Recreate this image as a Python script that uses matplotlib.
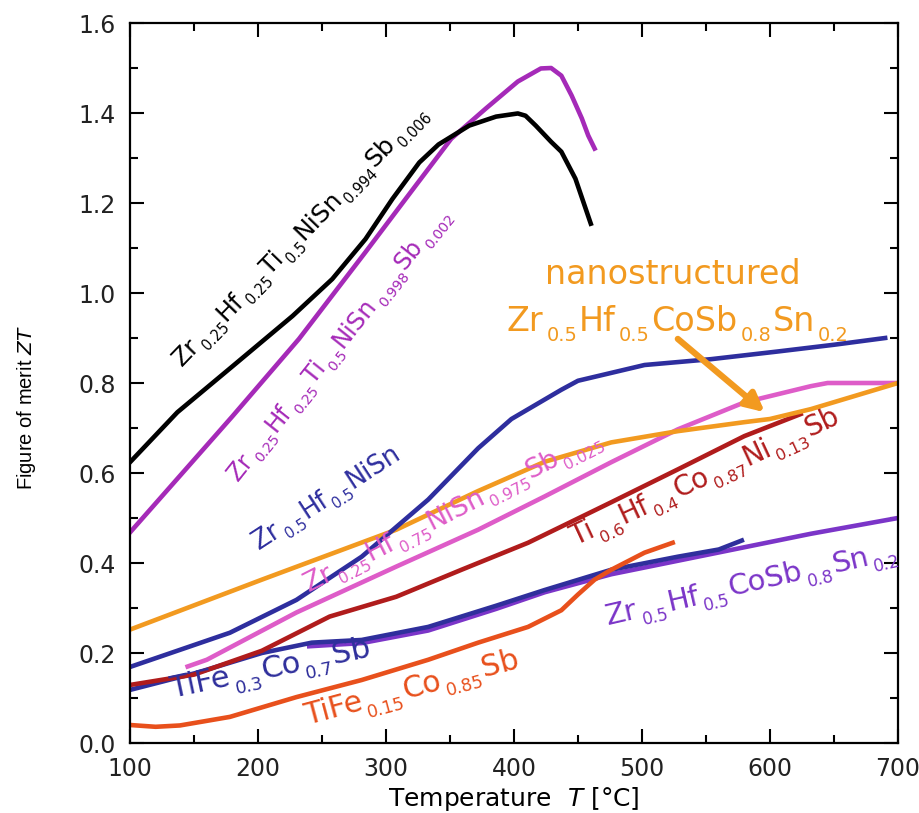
import re
import numpy as np
import matplotlib
matplotlib.use('Agg')
import matplotlib.pyplot as plt
from matplotlib.ticker import MultipleLocator, FormatStrFormatter
from matplotlib.transforms import offset_copy
from matplotlib.font_manager import FontProperties

plt.rcParams['font.family'] = ['DejaVu Sans']
plt.rcParams['mathtext.fontset'] = 'custom'
plt.rcParams['mathtext.rm'] = 'DejaVu Sans'
plt.rcParams['mathtext.it'] = 'DejaVu Sans:italic'

# ZT(T) curves, temperatures in degC
blk_T = [100, 137, 180, 227, 258, 284, 305, 326, 341, 365, 386, 403, 409, 417, 429, 437, 448, 460]
blk_ZT = [0.624, 0.735, 0.837, 0.949, 1.031, 1.12, 1.209, 1.29, 1.33, 1.372, 1.392, 1.399, 1.394, 1.372, 1.336, 1.314, 1.254, 1.154]

mag_T = [100, 180, 232, 284, 323, 351, 378, 403, 421, 429, 437, 445, 453, 458, 463]
mag_ZT = [0.468, 0.726, 0.898, 1.091, 1.238, 1.343, 1.41, 1.47, 1.499, 1.50, 1.483, 1.439, 1.388, 1.35, 1.321]

nisn_T = [100, 178, 230, 281, 333, 372, 386, 398, 437, 450, 502, 554, 606, 650, 690]
nisn_ZT = [0.169, 0.245, 0.318, 0.414, 0.541, 0.655, 0.69, 0.72, 0.785, 0.805, 0.84, 0.853, 0.87, 0.885, 0.90]

nano_T = [100, 203, 308, 372, 424, 476, 528, 580, 600, 632, 700]
nano_ZT = [0.252, 0.363, 0.474, 0.56, 0.625, 0.668, 0.693, 0.713, 0.72, 0.742, 0.80]

pink_T = [145, 160, 230, 308, 372, 424, 476, 528, 580, 632, 645, 700]
pink_ZT = [0.17, 0.185, 0.29, 0.392, 0.474, 0.548, 0.624, 0.697, 0.757, 0.793, 0.80, 0.80]

red_T = [100, 150, 203, 256, 308, 359, 411, 458, 476, 528, 580, 624]
red_ZT = [0.129, 0.152, 0.205, 0.281, 0.325, 0.385, 0.445, 0.51, 0.535, 0.608, 0.682, 0.731]

fe3_T = [100, 152, 203, 242, 281, 333, 386, 424, 476, 528, 560, 578]
fe3_ZT = [0.118, 0.156, 0.200, 0.223, 0.229, 0.258, 0.305, 0.34, 0.385, 0.414, 0.43, 0.45]

cosb_T = [240, 281, 333, 386, 424, 476, 528, 580, 632, 700]
cosb_ZT = [0.215, 0.222, 0.25, 0.298, 0.335, 0.375, 0.405, 0.435, 0.465, 0.50]

fe15_T = [100, 120, 139, 178, 230, 281, 333, 372, 411, 437, 450, 463, 476, 502, 524]
fe15_ZT = [0.040, 0.036, 0.039, 0.058, 0.102, 0.140, 0.185, 0.223, 0.258, 0.295, 0.33, 0.363, 0.385, 0.423, 0.445]

c_blk = 'black'
c_mag = '#A52AB8'
c_nisn = '#2E2E9E'
c_nano = '#F29A20'
c_pink = '#DE5CC8'
c_red = '#B01C1C'
c_fe3 = '#2F2F9C'
c_cosb = '#7B35C8'
c_fe15 = '#E8501C'

fig = plt.figure(figsize=(9.19, 8.13), dpi=100)
ax = fig.add_axes([0.1415, 0.0861, 0.8356, 0.8856])

lw = 3.3
ax.plot(cosb_T, cosb_ZT, color=c_cosb, lw=lw)
ax.plot(fe3_T, fe3_ZT, color=c_fe3, lw=lw)
ax.plot(fe15_T, fe15_ZT, color=c_fe15, lw=lw)
ax.plot(red_T, red_ZT, color=c_red, lw=lw)
ax.plot(pink_T, pink_ZT, color=c_pink, lw=lw)
ax.plot(nano_T, nano_ZT, color=c_nano, lw=lw)
ax.plot(nisn_T, nisn_ZT, color=c_nisn, lw=lw)
ax.plot(mag_T, mag_ZT, color=c_mag, lw=lw)
ax.plot(blk_T, blk_ZT, color=c_blk, lw=lw)

renderer = fig.canvas.get_renderer()


def chem(x, y, formula, color, rot=0, size=18, sub=0.58, drop=0.3, gap=0.1):
    # formula like 'Zr_0.25Hf_0.25NiSn': pieces after '_' are subscripts
    pieces = re.findall(r'_([0-9.]+)|([^_]+?)(?=_|$)', formula)
    th = np.radians(rot)
    adv = 0.0
    for sb, main in pieces:
        s = sb if sb else main
        fsz = size * sub if sb else size
        along = adv + (gap * size if sb else 0)
        perp = drop * size if sb else 0
        dx = along * np.cos(th) + perp * np.sin(th)
        dy = along * np.sin(th) - perp * np.cos(th)
        tr = offset_copy(ax.transData, fig=fig, x=dx, y=dy, units='points')
        ax.text(x, y, s, color=color, fontsize=fsz, rotation=rot, rotation_mode='anchor',
                ha='left', va='baseline', transform=tr)
        w, _, _ = renderer.get_text_width_height_descent(s, FontProperties(size=fsz), ismath=False)
        adv = along + w * 72 / fig.dpi + (0.04 * size if sb else 0)


chem(140.5, 0.835, 'Zr_0.25Hf_0.25Ti_0.5NiSn_0.994Sb_0.006', c_blk, 46, 18)
chem(184, 0.581, 'Zr_0.25Hf_0.25Ti_0.5NiSn_0.998Sb_0.002', c_mag, 51.5, 17.5)
chem(201, 0.43, 'Zr_0.5Hf_0.5NiSn', c_nisn, 33, 18.5)
chem(240, 0.336, 'Zr_0.25Hf_0.75NiSn_0.975Sb_0.025', c_pink, 27, 19.5)
chem(448, 0.437, 'Ti_0.6Hf_0.4Co_0.87Ni_0.13Sb', c_red, 25, 20)
chem(473.5, 0.263, 'Zr_0.5Hf_0.5CoSb_0.8Sn_0.2', c_cosb, 13, 21)
chem(133, 0.10, 'TiFe_0.3Co_0.7Sb', c_fe3, 12, 22)
chem(238, 0.04, 'TiFe_0.15Co_0.85Sb', c_fe15, 15, 21.5)

ax.text(524, 1.042, 'nanostructured', color=c_nano, fontsize=24, ha='center', va='center')
chem(394, 0.915, 'Zr_0.5Hf_0.5CoSb_0.8Sn_0.2', c_nano, 0, 24)
ax.annotate('', xy=(596, 0.735), xytext=(528, 0.898),
            arrowprops=dict(arrowstyle='-|>', color=c_nano, lw=4.5, mutation_scale=28,
                            shrinkA=0, shrinkB=0))

ax.set_xlim(100, 700)
ax.set_ylim(0, 1.6)
ax.xaxis.set_major_locator(MultipleLocator(100))
ax.xaxis.set_minor_locator(MultipleLocator(50))
ax.yaxis.set_major_locator(MultipleLocator(0.2))
ax.yaxis.set_minor_locator(MultipleLocator(0.1))
ax.yaxis.set_major_formatter(FormatStrFormatter('%.1f'))
ax.tick_params(which='both', direction='in', top=True, right=True, width=1.5,
               labelsize=17, colors='black', labelcolor='#222222')
ax.tick_params(which='major', length=10, pad=10)
ax.tick_params(which='minor', length=6)
for sp in ax.spines.values():
    sp.set_linewidth(1.6)

fig.text(0.5593, 0.017, r'Temperature  $\mathit{T}$ [°C]', fontsize=18, ha='center', va='center')
fig.text(0.029, 0.498, r'Figure of merit $\mathit{ZT}$', fontsize=14.5, ha='center', va='center',
         rotation=90, family='Liberation Sans')

fig.savefig('out.png', dpi=100)
